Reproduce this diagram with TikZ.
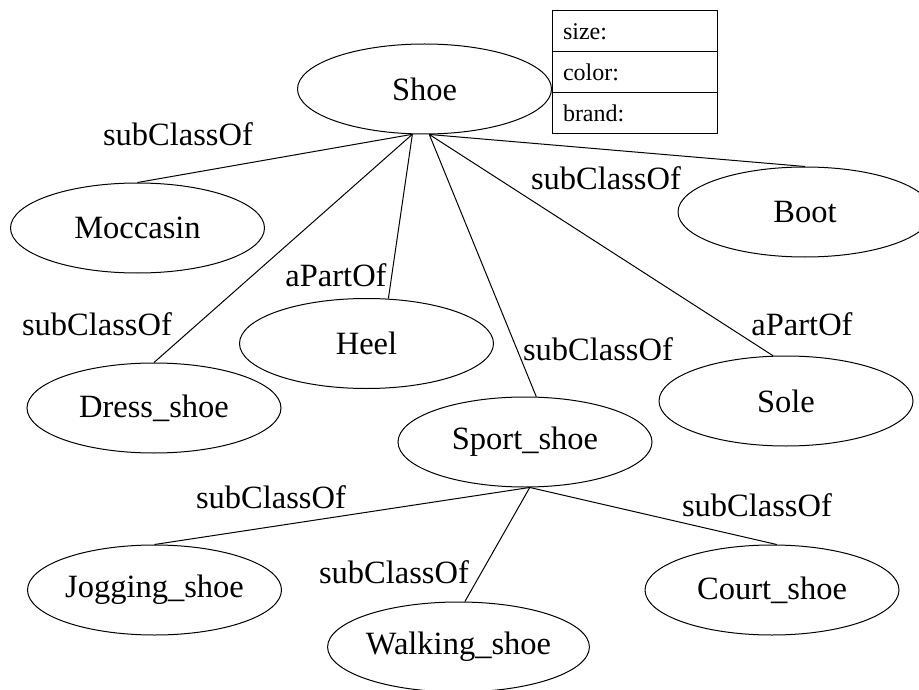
\documentclass[tikz,border=0pt]{standalone}
\usepackage{fontspec}
\setmainfont{Liberation Serif}
\usetikzlibrary{shapes.geometric}
\begin{document}
\begin{tikzpicture}[x=1pt,y=-1pt,
  cls/.style={ellipse,draw,line width=1pt,minimum width=254pt,minimum height=90pt,inner sep=0pt,font=\fontsize{32.5}{36}\selectfont},
  lbl/.style={inner sep=0pt,font=\fontsize{32.5}{36}\selectfont},
  rowbox/.style={draw,line width=1pt,minimum height=41pt,inner xsep=11pt,inner ysep=0pt,text width=143pt,align=left,font=\fontsize{24}{28}\selectfont},
  link/.style={line width=1pt}]
\useasboundingbox (0,0) rectangle (919,690);

% classes
\node[cls] (shoe)  at (424.5,89)  {Shoe};
\node[cls] (moc)   at (137.5,228) {Moccasin};
\node[cls] (boot)  at (805,212)   {Boot};
\node[cls] (heel)  at (366.5,343.5) {Heel};
\node[cls] (dress) at (154,408)   {Dress\_shoe};
\node[cls] (sport) at (525,442)   {Sport\_shoe};
\node[cls] (sole)  at (786,401)   {Sole};
\node[cls] (jog)   at (154.5,590) {Jogging\_shoe};
\node[cls] (walk)  at (458.5,647) {Walking\_shoe};
\node[cls] (court) at (772,590)   {Court\_shoe};

% attribute box
\node[rowbox] (size)  at (634.5,31.5)  {size:};
\node[rowbox] (color) at (634.5,72.5)  {color:};
\node[rowbox] (brand) at (634.5,113.5) {brand:};

% connectors
\draw[link] (shoe.-105.5) -- (moc.north);
\draw[link] (shoe.-105.5) -- (dress.north);
\draw[link] (shoe.-105.5) -- (heel.64);
\draw[link] (shoe.-84) -- (sport.76);
\draw[link] (shoe.-84) -- (sole.106);
\draw[link] (shoe.-84) -- (boot.north);
\draw[link] (sport.-84) -- (jog.north);
\draw[link] (sport.-84) -- (walk.82);
\draw[link] (sport.-84) -- (court.84);

% labels
\node[lbl] (l1) at (178,134) {subClassOf};
\node[lbl] (l2) at (606,178) {subClassOf};
\node[lbl] (l3) at (336,275) {aPartOf};
\node[lbl] (l4) at (97,324)  {subClassOf};
\node[lbl] (l5) at (598,349) {subClassOf};
\node[lbl] (l6) at (802,324) {aPartOf};
\node[lbl] (l7) at (271,497) {subClassOf};
\node[lbl] (l8) at (394,572) {subClassOf};
\node[lbl] (l9) at (757,505) {subClassOf};
\end{tikzpicture}
\end{document}
